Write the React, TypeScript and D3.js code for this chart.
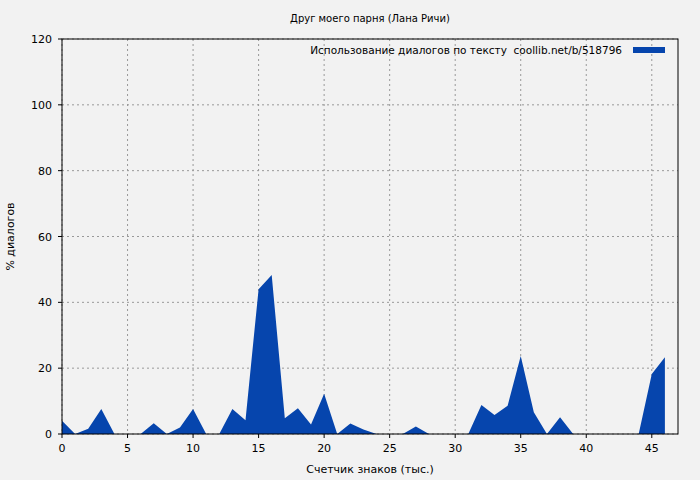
import React from "react";
import * as d3 from "d3";

const xValues: number[] = Array.from({ length: 47 }, (_, i) => i);
const usage: number[] = [
  4.0, 0, 1.6, 7.6, 0, 0, 0, 3.3, 0, 2.0, 7.6, 0, 0, 7.6, 4.2, 44.0, 48.3, 4.8, 7.8, 2.9,
  12.2, 0, 3.2, 1.4, 0, 0, 0, 2.3, 0, 0, 0, 0, 8.8, 5.8, 8.6, 23.7, 6.6, 0, 5.1, 0,
  0, 0, 0, 0, 0, 18.2, 23.3,
];
const xTicks: number[] = [0, 5, 10, 15, 20, 25, 30, 35, 40, 45];
const yTicks: number[] = [0, 20, 40, 60, 80, 100, 120];
const title = "Друг моего парня (Лана Ричи)";
const legendLabel = "Использование диалогов по тексту  coollib.net/b/518796";
const xLabel = "Счетчик знаков (тыс.)";
const yLabel = "% диалогов";

export default function App() {
  const W = 700, H = 480;
  const left = 62, right = 678, top = 39, bottom = 434;
  const x = d3.scaleLinear().domain([0, 47]).range([left, right]);
  const y = d3.scaleLinear().domain([0, 120]).range([bottom, top]);
  const area = d3
    .area<number>()
    .x((_, i) => x(xValues[i]))
    .y0(y(0))
    .y1((d) => y(d));
  const font = "DejaVu Sans, Verdana, sans-serif";
  return (
    <svg width={W} height={H} style={{ position: "absolute", left: 0, top: 0, background: "#f2f2f2" }} fontFamily={font}>
      <rect x={0} y={0} width={W} height={H} fill="#f2f2f2" />
      {xTicks.map((t) => (
        <line key={"gx" + t} x1={x(t)} x2={x(t)} y1={top} y2={bottom} stroke="#999" strokeDasharray="2,3" strokeWidth={1} />
      ))}
      {yTicks.map((t) => (
        <line key={"gy" + t} x1={left} x2={right} y1={y(t)} y2={y(t)} stroke="#999" strokeDasharray="2,3" strokeWidth={1} />
      ))}
      <path d={area(usage) || ""} fill="#0645ad" />
      <rect x={left} y={top} width={right - left} height={bottom - top} fill="none" stroke="#000" strokeWidth={1} />
      {xTicks.map((t) => (
        <g key={"tx" + t}>
          <line x1={x(t)} x2={x(t)} y1={bottom} y2={bottom + 4} stroke="#000" />
          <text x={x(t)} y={bottom + 18} textAnchor="middle" fontSize={11} fill="#000">{t}</text>
        </g>
      ))}
      {yTicks.map((t) => (
        <g key={"ty" + t}>
          <line x1={left - 4} x2={left} y1={y(t)} y2={y(t)} stroke="#000" />
          <text x={left - 10} y={y(t) + 4} textAnchor="end" fontSize={11} fill="#000">{t}</text>
        </g>
      ))}
      <text x={(left + right) / 2} y={22} textAnchor="middle" fontSize={10} fill="#000">{title}</text>
      <text x={(left + right) / 2} y={473} textAnchor="middle" fontSize={11} fill="#000">{xLabel}</text>
      <text transform={`translate(14, ${(top + bottom) / 2}) rotate(-90)`} textAnchor="middle" fontSize={11} fill="#000">{yLabel}</text>
      <text x={622} y={54} textAnchor="end" fontSize={10.5} fill="#000" style={{ whiteSpace: "pre" }}>{legendLabel}</text>
      <rect x={633} y={47} width={32} height={6} fill="#0645ad" />
    </svg>
  );
}
